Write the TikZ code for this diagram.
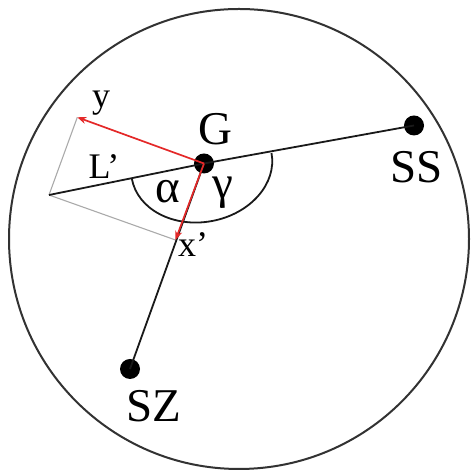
\documentclass[tikz,border=0pt]{standalone}
\usepackage{fontspec}
\setmainfont{Liberation Serif}
\usetikzlibrary{arrows.meta}
\definecolor{vecred}{RGB}{228,40,40}
\definecolor{linegray}{RGB}{170,170,170}
\definecolor{rimgray}{RGB}{50,50,50}
\tikzset{
  dot/.style={circle,fill=black,inner sep=0pt,minimum size=20pt},
  mainline/.style={line width=1.8pt,draw=black!90},
  helpline/.style={line width=1.1pt,draw=linegray},
  vec/.style={line width=1.7pt,draw=vecred,-{Stealth[length=9pt,width=7pt]}},
  biglabel/.style={font=\fontsize{47}{47}\selectfont,anchor=base,inner sep=0pt},
  smalllabel/.style={font=\fontsize{36}{36}\selectfont,anchor=base,inner sep=0pt}
}
\begin{document}
\begin{tikzpicture}[x=1pt,y=1pt]
\useasboundingbox (0,0) rectangle (471,470);
% outer circle
\draw[line width=2pt,draw=rimgray] (239,231) circle[radius=230];
% points
\coordinate (L) at (49,275);
\coordinate (ytip) at (77.3,352.7);
\coordinate (xtip) at (175.5,230);
% helper (parallelogram) lines
\draw[helpline] (L) -- (ytip);
\draw[helpline] (L) -- (xtip);
% dots
\node[dot] (G) at (204,306.5) {};
\node[dot] (SS) at (414,344.5) {};
\node[dot] (SZ) at (130,101) {};
% main lines
\draw[mainline] (L) -- (G.center);
\draw[mainline] (G.center) -- (SS.center);
\draw[mainline] (G.center) -- (SZ.center);
% half ellipse arc
\draw[mainline,shift={(201.7,304)},rotate=10.5] (71,0) arc[start angle=0,end angle=-180,x radius=71,y radius=56];
% red vectors
\draw[vec] (G.center) -- (ytip);
\draw[vec] (G.center) -- (xtip);
% labels
\node[smalllabel] (ylab) at (101,362.5) {y};
\node[biglabel] (Glab) at (215.5,325.5) {G};
\node[smalllabel] (Llab) at (104,291.7) {L’};
\node[biglabel] (alab) at (168,267.5) {α};
\node[biglabel] (glab) at (222.5,271) {γ};
\node[smalllabel] (xlab) at (193,213.3) {x’};
\node[biglabel] (SSlab) at (416.7,287.3) {SS};
\node[biglabel] (SZlab) at (154,48.3) {SZ};
\end{tikzpicture}
\end{document}
